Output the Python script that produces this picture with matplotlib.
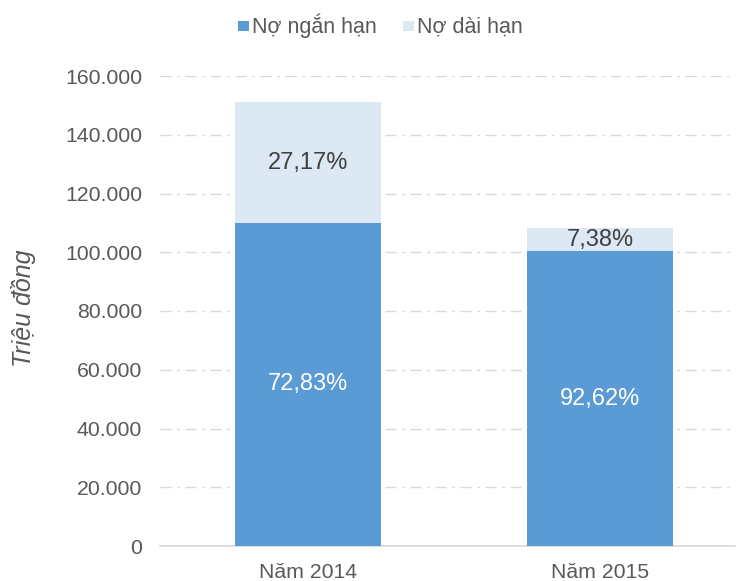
import matplotlib
matplotlib.use("Agg")
import matplotlib.pyplot as plt
from matplotlib.patches import Rectangle
import numpy as np

plt.rcParams['font.family'] = ['Liberation Sans', 'DejaVu Sans']

categories = ["Năm 2014", "Năm 2015"]
short_term = [110000, 100300]
long_term = [41100, 8000]
short_labels = ["72,83%", "92,62%"]
long_labels = ["27,17%", "7,38%"]
series_names = ["Nợ ngắn hạn", "Nợ dài hạn"]
yticks = [0, 20000, 40000, 60000, 80000, 100000, 120000, 140000, 160000]
ytick_labels = ["0", "20.000", "40.000", "60.000", "80.000", "100.000", "120.000", "140.000", "160.000"]

c_short = "#5b9bd5"
c_long = "#dde8f5"
colors = [c_short, c_long]
txt = "#595959"

W, H = 739, 581
fig = plt.figure(figsize=(W/100, H/100), dpi=100)
ax = fig.add_axes([160/W, 1-546/H, (735-160)/W, (546-76)/H])

x = np.arange(len(categories))
b1 = ax.bar(x, short_term, width=0.5, color=c_short, label=series_names[0], zorder=3)
b2 = ax.bar(x, long_term, width=0.5, bottom=short_term, color=c_long, label=series_names[1], zorder=3)

for i in range(len(categories)):
    ax.text(x[i], short_term[i]/2, short_labels[i], ha='center', va='center', color='white', fontsize=17, zorder=4)
    ax.text(x[i], short_term[i] + long_term[i]/2, long_labels[i], ha='center', va='center', color='#404040', fontsize=17, zorder=4)

ax.set_xlim(-0.507, 1.462)
ax.set_ylim(0, 160000)
ax.set_yticks(yticks)
ax.set_yticklabels(ytick_labels, color=txt, fontsize=15.3)
ax.set_xticks(x)
ax.set_xticklabels(categories, color=txt, fontsize=15.3)
ax.tick_params(axis='x', length=0, pad=12)
ax.tick_params(axis='y', length=0, pad=13)

ax.grid(axis='y', color='#d9d9d9', linestyle=(0, (8, 4, 2, 4)), linewidth=1, zorder=0)
for s in ['top', 'right', 'left']:
    ax.spines[s].set_visible(False)
ax.spines['bottom'].set_color('#d9d9d9')
ax.spines['bottom'].set_linewidth(1.2)

ax.set_ylabel("Triệu đồng", fontstyle='italic', color=txt, fontsize=18)
ax.yaxis.set_label_coords(-0.215, 0.506)

# legend (manual, baseline-aligned)
leg_x = [238, 403]
for i, name in enumerate(series_names):
    fig.patches.append(Rectangle((leg_x[i]/W, 1-31/H), 10.5/W, 10.5/H, transform=fig.transFigure,
                                 facecolor=colors[i], edgecolor='none'))
    fig.text((leg_x[i]+14)/W, 1-33/H, name, ha='left', va='baseline', color=txt, fontsize=15.5)

fig.savefig("out.png", dpi=100)
